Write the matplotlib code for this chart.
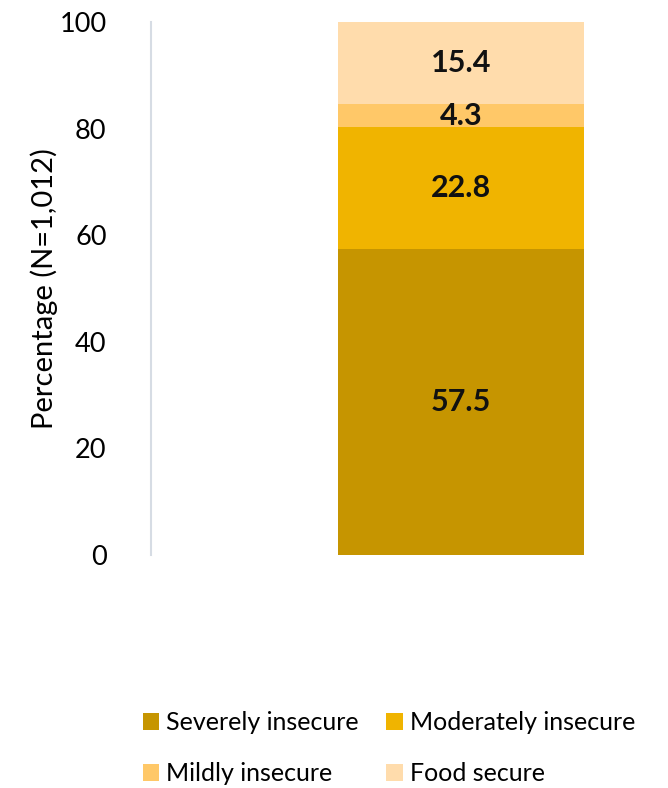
import matplotlib

matplotlib.use("Agg")
import matplotlib.pyplot as plt

categories = ["Severely insecure", "Moderately insecure", "Mildly insecure", "Food secure"]
shares = [57.5, 22.8, 4.3, 15.4]
colors = ["#C69500", "#F0B400", "#FFC868", "#FFDCAC"]
y_ticks = [0, 20, 40, 60, 80, 100]

plt.rcParams["font.family"] = ["Lato", "DejaVu Sans"]

fig = plt.figure(figsize=(6.68, 7.88), dpi=100)
ax = fig.add_axes([151 / 668, 1 - 555 / 788, 517 / 668, 533 / 788])

bar_x = 0.5996
bar_w = 0.4758
bottom = 0.0
handles = []
for name, value, color in zip(categories, shares, colors):
    bars = ax.bar(bar_x, value, width=bar_w, bottom=bottom, color=color, label=name)
    handles.append(bars)
    ax.text(bar_x, bottom + value / 2, f"{value:.1f}", ha="center", va="center",
            fontsize=22, fontweight="bold", color="#111111")
    bottom += value

ax.set_xlim(0, 1)
ax.set_ylim(0, 100)
ax.set_yticks(y_ticks)
ax.tick_params(axis="y", length=0, pad=32, labelsize=19.5)
ax.set_xticks([])
for side in ("top", "right", "bottom"):
    ax.spines[side].set_visible(False)
ax.spines["left"].set_color("#D6DCE4")
ax.spines["left"].set_linewidth(1.5)
ax.set_ylabel("Percentage (N=1,012)", fontsize=21, labelpad=1)

# matplotlib fills legend columns first, so reorder to read row by row
order = [0, 2, 1, 3]
fig.legend([handles[i] for i in order], [categories[i] for i in order],
           loc="upper left", bbox_to_anchor=(125 / 668, 1 - 694 / 788), ncol=2,
           frameon=False, fontsize=18, handlelength=0.65, handleheight=0.65,
           handletextpad=0.3, columnspacing=1.1, labelspacing=1.1,
           borderpad=0.2)

fig.savefig("out.png", dpi=100)
